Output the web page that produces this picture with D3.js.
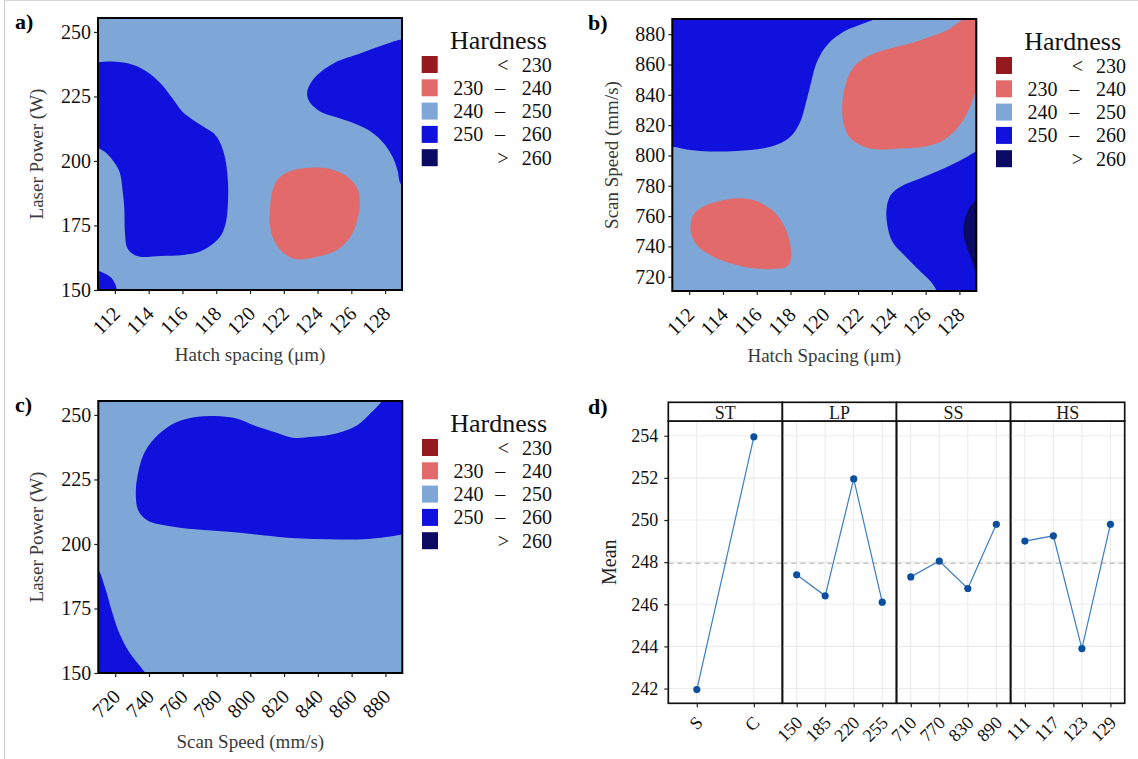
<!DOCTYPE html>
<html>
<head>
<meta charset="utf-8">
<script src="https://cdn.jsdelivr.net/npm/d3@7"></script>
<style>
body { margin: 0; background: #fff; }
svg { display: block; font-family: "Liberation Serif", "Times New Roman", serif; }
</style>
</head>
<body>
<svg width="1138" height="759"></svg>
<script>
const svg = d3.select("svg");
const serif = "'Liberation Serif', 'Times New Roman', serif";

// legend levels (shared by the three contour plots)
const hardnessLevels = ["< 230", "230 – 240", "240 – 250", "250 – 260", "> 260"];
const hardnessColors = ["#951a1f", "#e26a6a", "#7ea7d8", "#1111dd", "#0b0b66"];

const hatchTicks = [112, 114, 116, 118, 120, 122, 124, 126, 128];
const powerTicks = [150, 175, 200, 225, 250];
const speedTicks = [720, 740, 760, 780, 800, 820, 840, 860, 880];

// contour outlines, [x, y] in data units; level = index into hardnessLevels
// a) hatch spacing vs laser power
const aHighLeft = [[110.5,238.3],[111.0,238.3],[111.9,238.5],[113.1,237.2],[113.9,234.6],[114.7,230.1],[115.4,224.3],[116.0,219.1],[116.5,216.5],[117.25,213.3],[117.85,210.7],[118.25,206.8],[118.55,200.4],[118.7,191.3],[118.7,184.9],[118.6,177.1],[118.35,171.9],[117.85,168.1],[117.05,164.9],[116.05,163.6],[114.7,163.2],[113.5,162.9],[113.0,164.2],[112.7,166.8],[112.6,172.0],[112.55,182.3],[112.45,188.8],[112.3,195.2],[112.0,199.1],[111.5,203.0],[111.0,204.9],[110.5,205.0]];
const aHighCorner = [[110.5,157.6],[111.0,157.5],[111.7,155.2],[112.0,152.6],[112.12,150.0],[112.15,149.0],[110.5,149.0]];
const aHighRight = [[129.6,247.3],[129.0,247.2],[127.93,245.0],[126.55,241.7],[124.97,237.9],[123.98,233.3],[123.48,228.8],[123.38,225.6],[123.58,222.4],[124.18,219.1],[124.97,217.2],[126.15,214.6],[127.14,211.4],[127.93,206.8],[128.43,201.7],[128.73,196.5],[128.95,191.0],[129.6,190.0]];
const aLow = [[121.8,193.9],[122.59,196.5],[123.58,197.4],[124.77,196.8],[125.76,193.9],[126.35,189.4],[126.51,183.6],[126.35,177.1],[125.96,170.7],[125.16,165.5],[123.98,162.9],[122.79,161.9],[122.0,164.2],[121.41,169.4],[121.17,175.8],[121.21,183.6],[121.41,190.1]];

// b) hatch spacing vs scan speed
const bHighLeft = [[110.5,805.9],[111.0,805.8],[112.05,803.6],[113.24,802.6],[114.82,803.0],[116.41,804.7],[117.4,808.0],[118.09,813.5],[118.58,822.3],[118.88,833.3],[119.18,846.5],[119.57,861.9],[120.17,872.9],[121.16,881.7],[122.35,887.2],[122.94,889.7],[123.3,891.5],[110.5,891.5]];
const bLowRight = [[129.6,842.0],[129.02,842.1],[128.68,833.3],[128.29,824.5],[127.69,815.8],[126.9,809.1],[125.91,805.8],[124.72,804.7],[123.34,804.0],[122.35,805.8],[121.55,811.3],[121.16,820.1],[121.06,831.1],[121.16,842.1],[121.46,853.1],[121.95,860.8],[122.74,866.3],[123.93,870.7],[125.12,874.0],[126.31,878.4],[127.3,882.8],[127.89,887.2],[128.29,890.1],[128.5,891.5],[129.6,891.5]];
const bLowLeft = [[112.25,760.8],[112.84,766.3],[113.83,770.0],[114.82,771.8],[115.81,770.7],[116.6,766.3],[117.2,760.8],[117.69,752.0],[117.99,741.0],[118.03,732.2],[117.79,726.7],[117.0,725.1],[115.81,725.6],[114.43,728.9],[113.24,734.4],[112.45,741.0],[112.09,749.8]];
const bHighRight = [[129.6,802.7],[129.02,802.6],[128.29,798.1],[127.1,791.5],[125.71,784.9],[124.52,779.4],[123.93,773.9],[123.69,765.1],[123.73,754.1],[124.03,743.1],[124.72,734.3],[125.51,725.5],[126.31,716.7],[126.7,710.6],[126.9,709.0],[129.6,709.0]];
const bTop = [[129.6,771.0],[129.02,770.6],[128.58,765.1],[128.29,756.3],[128.23,749.7],[128.39,740.9],[128.69,732.1],[129.02,723.3],[129.6,723.0]];

// c) scan speed vs laser power
const cHighTop = [[878.0,256.5],[877.6,255.2],[870.6,250.3],[862.6,245.7],[850.8,242.8],[836.9,241.5],[825.0,241.2],[815.1,243.2],[803.1,245.7],[791.3,248.7],[779.4,249.6],[767.5,249.2],[755.6,247.0],[745.7,242.5],[737.8,236.0],[733.8,228.3],[732.2,219.3],[733.8,212.8],[739.7,208.9],[751.6,207.0],[767.5,205.7],[787.3,204.7],[807.1,203.4],[827.0,202.2],[846.8,201.8],[866.6,201.8],[880.5,202.7],[889.8,203.7],[891.0,203.8],[891.0,256.5]];
const cHighCorner = [[709.0,190.0],[710.4,189.5],[714.0,183.1],[718.0,174.0],[721.9,166.3],[727.9,158.5],[737.8,150.0],[738.6,149.0],[709.0,149.0]];
const cLowCorner = [[709.0,256.5],[711.8,256.5],[711.0,254.8],[709.0,254.2]];

// d) main effects plot
const effectFactors = ["ST", "LP", "SS", "HS"];
const stLevels = ["S", "C"];
const stMeans = [241.95, 253.95];
const lpLevels = ["150", "185", "220", "255"];
const lpMeans = [247.4, 246.4, 251.95, 246.1];
const ssLevels = ["710", "770", "830", "890"];
const ssMeans = [247.3, 248.05, 246.75, 249.8];
const hsLevels = ["111", "117", "123", "129"];
const hsMeans = [249.0, 249.25, 243.9, 249.8];
const grandMean = 247.95;
const meanTicks = [242, 244, 246, 248, 250, 252, 254];

// faint frame of the figure
svg.append("line").attr("x1", 4.5).attr("x2", 4.5).attr("y1", 0).attr("y2", 759)
    .attr("stroke", "#c9c9c9").attr("stroke-width", 1);
svg.append("line").attr("x1", 4).attr("x2", 1138).attr("y1", 0.5).attr("y2", 0.5)
    .attr("stroke", "#d6d6d6").attr("stroke-width", 1);

const smooth = d3.curveCatmullRomClosed.alpha(0.5);

function styleAxis(a, size) {
    a.attr("font-family", serif);
    a.select(".domain").remove();
    a.selectAll(".tick line").attr("stroke", "#222").attr("stroke-width", 1.2);
    a.selectAll(".tick text").attr("font-size", size).attr("fill", "#111");
}

function contourPanel(o) {
    const g = svg.append("g");
    const x = d3.scaleLinear().domain(o.xDomain).range([o.left, o.left + 304]);
    const y = d3.scaleLinear().domain(o.yDomain).range([o.top + 272, o.top]);

    svg.append("clipPath").attr("id", "clip-" + o.id)
      .append("rect").attr("x", o.left).attr("y", o.top).attr("width", 304).attr("height", 272);

    const body = g.append("g").attr("clip-path", "url(#clip-" + o.id + ")");
    body.append("rect")
        .attr("x", o.left).attr("y", o.top).attr("width", 304).attr("height", 272)
        .attr("fill", hardnessColors[2]);

    const line = d3.line().x(d => x(d[0])).y(d => y(d[1])).curve(smooth);
    o.regions.forEach(r => {
        body.append("path")
            .attr("d", line(r[1]))
            .attr("fill", hardnessColors[r[0]]);
    });

    g.append("rect")
        .attr("x", o.left).attr("y", o.top).attr("width", 304).attr("height", 272)
        .attr("fill", "none").attr("stroke", "#000").attr("stroke-width", 2);

    const xa = g.append("g")
        .attr("transform", "translate(0," + (o.top + 272) + ")")
        .call(d3.axisBottom(x).tickValues(o.xTicks).tickSize(4).tickFormat(d3.format("d")));
    styleAxis(xa, 20);
    xa.selectAll(".tick text")
        .attr("y", 0).attr("dy", "0.35em")
        .attr("transform", "translate(1,20) rotate(-45)")
        .attr("text-anchor", "end");

    const ya = g.append("g")
        .attr("transform", "translate(" + o.left + ",0)")
        .call(d3.axisLeft(y).tickValues(o.yTicks).tickSize(4).tickPadding(3).tickFormat(d3.format("d")));
    styleAxis(ya, 20);

    g.append("text")
        .attr("x", o.left + 152).attr("y", o.xTitleY)
        .attr("text-anchor", "middle").attr("font-size", 19).attr("fill", "#3a3a3a")
        .text(o.xTitle);
    g.append("text")
        .attr("transform", "translate(" + o.yTitleX + "," + (o.top + 136) + ") rotate(-90)")
        .attr("text-anchor", "middle").attr("font-size", 19).attr("fill", "#3a3a3a")
        .text(o.yTitle);

    g.append("text")
        .attr("x", o.tagX).attr("y", o.top + 11)
        .attr("font-size", 22).attr("font-weight", "bold").text(o.tag);

    // legend
    const lx = o.left + 304;
    const lg = g.append("g").attr("transform", "translate(" + lx + "," + o.top + ")")
        .attr("font-family", serif);
    lg.append("text").attr("x", 48).attr("y", 31).attr("font-size", 26).attr("fill", "#111").text("Hardness");
    hardnessLevels.forEach((lab, i) => {
        const ry = 38 + i * 23.3;
        lg.append("rect").attr("x", 19.7).attr("y", ry).attr("width", 16).attr("height", 17)
            .attr("fill", hardnessColors[i]);
        const parts = lab.split(" ");
        const cy = ry + 8.5;
        const t = (xx, anchor, s) => lg.append("text").attr("x", xx).attr("y", cy).attr("dy", "0.35em")
            .attr("text-anchor", anchor).attr("font-size", 20).attr("fill", "#111").text(s);
        if (parts.length === 3) {
            t(81.3, "end", parts[0]);
            t(98, "middle", parts[1]);
            t(149.7, "end", parts[2]);
        } else {
            t(101, "middle", parts[0]);
            t(149.7, "end", parts[1]);
        }
    });
}

contourPanel({
    id: "a", tag: "a)", tagX: 15, left: 98, top: 18,
    xDomain: [111, 129], yDomain: [150, 255.4], xTicks: hatchTicks, yTicks: powerTicks,
    xTitle: "Hatch spacing (μm)", yTitle: "Laser Power (W)", xTitleY: 361, yTitleX: 43,
    regions: [[3, aHighLeft], [3, aHighCorner], [3, aHighRight], [1, aLow]]
});
contourPanel({
    id: "b", tag: "b)", tagX: 588, left: 672.3, top: 19,
    xDomain: [111, 129], yDomain: [710.6, 890], xTicks: hatchTicks, yTicks: speedTicks,
    xTitle: "Hatch Spacing (μm)", yTitle: "Scan Speed (mm/s)", xTitleY: 362, yTitleX: 618,
    regions: [[3, bHighLeft], [1, bLowRight], [1, bLowLeft], [3, bHighRight], [4, bTop]]
});
contourPanel({
    id: "c", tag: "c)", tagX: 15, left: 98.3, top: 401,
    xDomain: [710, 890], yDomain: [150, 255.4], xTicks: speedTicks, yTicks: powerTicks,
    xTitle: "Scan Speed (mm/s)", yTitle: "Laser Power (W)", xTitleY: 748, yTitleX: 43,
    regions: [[3, cHighTop], [3, cHighCorner], [1, cLowCorner]]
});

// ---- d) main effects ----
const dLeft = 668.3, facetW = 114.1, stripTop = 402.3, plotTop = 421, plotBottom = 703.3;
const yMean = d3.scaleLinear().domain([241.3, 254.7]).range([plotBottom, plotTop]);
const facetLevels = [stLevels, lpLevels, ssLevels, hsLevels];
const facetMeans = [stMeans, lpMeans, ssMeans, hsMeans];

const dg = svg.append("g");
effectFactors.forEach((f, i) => {
    const fx = dLeft + i * facetW;
    const x = d3.scalePoint().domain(facetLevels[i]).range([fx, fx + facetW]).padding(0.5);
    const fg = dg.append("g");

    fg.selectAll(".hgrid").data(meanTicks).enter().append("line")
        .attr("x1", fx).attr("x2", fx + facetW)
        .attr("y1", d => yMean(d)).attr("y2", d => yMean(d))
        .attr("stroke", "#ebebeb").attr("stroke-width", 1.1);
    fg.selectAll(".vgrid").data(facetLevels[i]).enter().append("line")
        .attr("x1", d => x(d)).attr("x2", d => x(d))
        .attr("y1", plotTop).attr("y2", plotBottom)
        .attr("stroke", "#ebebeb").attr("stroke-width", 1.1);

    fg.append("line")
        .attr("x1", fx).attr("x2", fx + facetW)
        .attr("y1", yMean(grandMean)).attr("y2", yMean(grandMean))
        .attr("stroke", "#b0b0b0").attr("stroke-width", 1.1).attr("stroke-dasharray", "5,4");

    const pts = facetLevels[i].map((lv, j) => [lv, facetMeans[i][j]]);
    fg.append("path")
        .attr("d", d3.line().x(d => x(d[0])).y(d => yMean(d[1]))(pts))
        .attr("fill", "none").attr("stroke", "#3d7dc3").attr("stroke-width", 1.2);
    fg.selectAll("circle").data(pts).enter().append("circle")
        .attr("cx", d => x(d[0])).attr("cy", d => yMean(d[1])).attr("r", 3.6)
        .attr("fill", "#0b4f9e");

    fg.append("rect")
        .attr("x", fx).attr("y", plotTop).attr("width", facetW).attr("height", plotBottom - plotTop)
        .attr("fill", "none").attr("stroke", "#111").attr("stroke-width", 1.7);
    fg.append("rect")
        .attr("x", fx).attr("y", stripTop).attr("width", facetW).attr("height", plotTop - stripTop)
        .attr("fill", "#fff").attr("stroke", "#111").attr("stroke-width", 1.7);
    fg.append("text")
        .attr("x", fx + facetW / 2).attr("y", plotTop - 2)
        .attr("text-anchor", "middle").attr("font-size", 18).attr("fill", "#1a1a1a")
        .text(f);

    const xa = fg.append("g")
        .attr("transform", "translate(0," + plotBottom + ")")
        .call(d3.axisBottom(x).tickSize(4));
    styleAxis(xa, 18);
    xa.selectAll(".tick text")
        .attr("y", 0).attr("dy", "0.35em")
        .attr("transform", "translate(2,16) rotate(-45)")
        .attr("text-anchor", "end");
});

const ma = dg.append("g")
    .attr("transform", "translate(" + dLeft + ",0)")
    .call(d3.axisLeft(yMean).tickValues(meanTicks).tickSize(4).tickPadding(6));
styleAxis(ma, 18);

dg.append("text")
    .attr("transform", "translate(616," + ((plotTop + plotBottom) / 2) + ") rotate(-90)")
    .attr("text-anchor", "middle").attr("font-size", 20).attr("fill", "#222")
    .text("Mean");
dg.append("text")
    .attr("x", 588).attr("y", 414)
    .attr("font-size", 22).attr("font-weight", "bold").text("d)");
</script>
</body>
</html>
